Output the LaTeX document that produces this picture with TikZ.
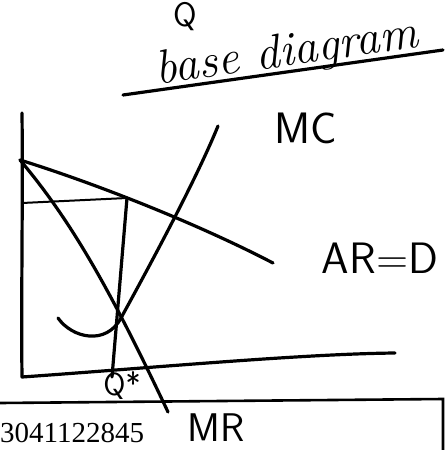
\documentclass[tikz,border=0pt]{standalone}
\usepackage{fontspec}
\newfontfamily\numfont{Liberation Serif}
\usepackage{tikz}
\usetikzlibrary{arrows,arrows.meta}

\begin{document}
\begin{tikzpicture}[x=1pt,y=-1pt,
hand/.style={font=\sffamily\fontsize{44}{44}\selectfont,inner sep=0pt},
script/.style={font=\itshape\fontsize{48}{48}\selectfont,inner sep=0pt},
curve/.style={line width=3.2pt,line cap=round,line join=round},
guide/.style={line width=2pt,line cap=round} ]

\useasboundingbox (0,0) rectangle (446,450);

% axes
\coordinate (top) at (22,113);
\coordinate (O) at (22,377);
\coordinate (xend) at (395,353);
\draw[curve] (top) .. controls (23,200) and (21,300) .. (O)
  .. controls (150,368) and (300,354) .. (xend);

% demand and marginal revenue
\coordinate (P0) at (20,160);
\coordinate (Dend) at (273,263);
\coordinate (MRend) at (168,412);
\draw[curve] (P0) .. controls (100,185) and (200,225) .. (Dend);
\draw[curve] (P0) .. controls (75,225) and (115,300) .. (MRend);

% marginal cost
\coordinate (MCa) at (58,318);
\coordinate (MCb) at (121,318);
\coordinate (MCc) at (218,126);
\draw[curve] (MCa) .. controls (72,338) and (106,346) .. (MCb)
  .. controls (150,265) and (196,180) .. (MCc);

% price and quantity
\coordinate (Pstar) at (22,203);
\coordinate (E) at (127,198);
\coordinate (Qstar) at (112,377);
\draw[guide] (Pstar) -- (E);
\draw[curve] (E) -- (Qstar);

% title
\node[hand,font=\sffamily\fontsize{34}{34}\selectfont] (Q) at (185,17) {Q};

\node[script,rotate=8] (title) at (287,54) {base diagram};

\coordinate (ula) at (123,95);
\coordinate (ulb) at (443,50);
\draw[curve] (ula) -- (ulb);

% labels
\node[hand] (MC) at (306,128) {MC};

\node[hand] (ARD) at (380,258) {AR=D};

\node[hand,font=\sffamily\fontsize{32}{32}\selectfont] (Qs) at (122,386) {Q*};

\node[hand,font=\sffamily\fontsize{40}{40}\selectfont] (MR) at (216,428) {MR};

% frame below
\coordinate (fa) at (0,403);
\coordinate (fb) at (443,399);
\coordinate (fc) at (443,450);
\draw[guide,line width=2.6pt] (fa) -- (fb) -- (fc);

\node[font=\numfont\fontsize{29}{29}\selectfont,anchor=west,inner sep=0pt] (id) at (0,433) {3041122845};

\end{tikzpicture}
\end{document}
